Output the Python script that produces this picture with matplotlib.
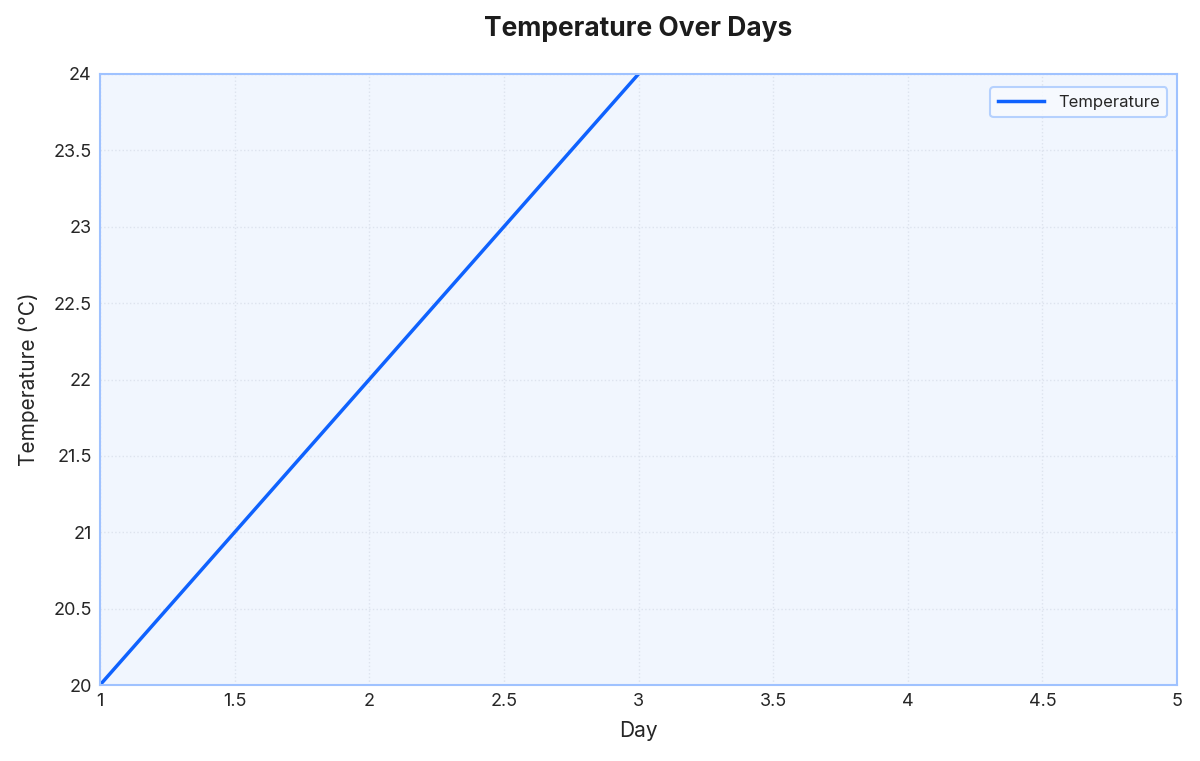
import matplotlib
matplotlib.use('Agg')
import matplotlib.pyplot as plt

# Data
days = [1, 2, 3]
temps = [20, 22, 24]
x_ticks = [1, 1.5, 2, 2.5, 3, 3.5, 4, 4.5, 5]
y_ticks = [20, 20.5, 21, 21.5, 22, 22.5, 23, 23.5, 24]

plt.rcParams['font.family'] = ['Inter', 'DejaVu Sans']

fig = plt.figure(figsize=(12, 7.61), dpi=100)
ax = fig.add_axes([100 / 1200, 1 - 685 / 761, 1077 / 1200, 611 / 761])
ax.set_facecolor('#f1f6fe')

ax.plot(days, temps, color='#0f62fe', linewidth=2.5, label='Temperature', clip_on=True)

ax.set_xlim(1, 5)
ax.set_ylim(20, 24)
ax.set_xticks(x_ticks)
ax.set_xticklabels([f'{t:g}' for t in x_ticks])
ax.set_yticks(y_ticks)
ax.set_yticklabels([f'{t:g}' for t in y_ticks])
ax.tick_params(length=0, labelsize=13, colors='#262626', pad=6)

ax.grid(True, color='#dde3ee', linestyle=':', linewidth=1)
for s in ax.spines.values():
    s.set_color('#9fc2ff')
    s.set_linewidth(1.5)

ax.set_xlabel('Day', fontsize=15, color='#262626', labelpad=8)
ax.set_ylabel('Temperature (°C)', fontsize=15, color='#262626', labelpad=10)
ax.set_title('Temperature Over Days', fontsize=19, fontweight='bold', color='#1c1c1c', pad=27)

leg = ax.legend(loc='upper right', fontsize=12, frameon=True, fancybox=True,
                handlelength=2.8, borderpad=0.45, bbox_to_anchor=(0.9985, 0.992))
leg.get_frame().set_edgecolor('#a6c8ff')
leg.get_frame().set_linewidth(1.5)
leg.get_frame().set_facecolor('#f8fbff')
for t in leg.get_texts():
    t.set_color('#262626')

fig.savefig('out.png', dpi=100)
